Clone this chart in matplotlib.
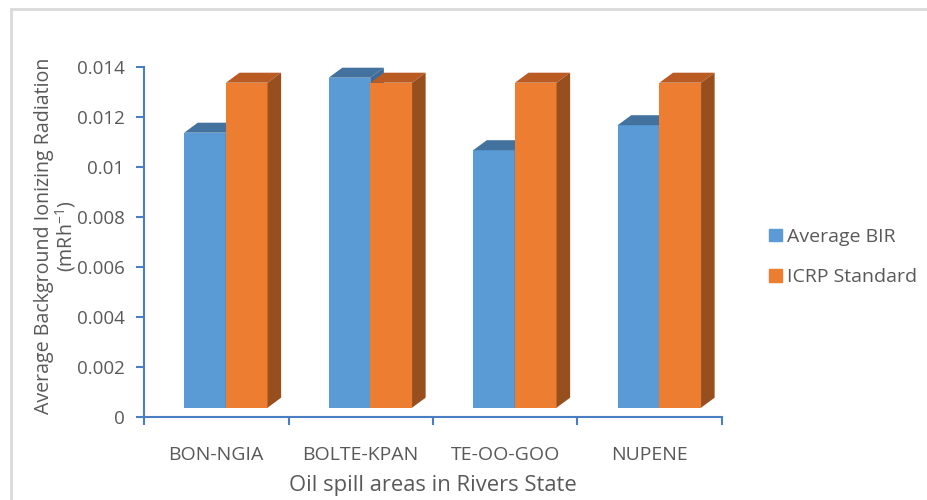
import numpy as np
import matplotlib.pyplot as plt
from matplotlib.patches import Patch, Rectangle

plt.rcParams['font.family'] = ['Open Sans', 'DejaVu Sans']
plt.rcParams['mathtext.default'] = 'regular'

# Data
areas = ['BON-NGIA', 'BOLTE-KPAN', 'TE-OO-GOO', 'NUPENE']
average_bir = [0.0110, 0.0132, 0.0103, 0.0113]
icrp_standard = [0.0130, 0.0130, 0.0130, 0.0130]
series_names = ['Average BIR', 'ICRP Standard']
ytick_vals = [0, 0.002, 0.004, 0.006, 0.008, 0.010, 0.012, 0.014]
ytick_labels = ['0', '0.002', '0.004', '0.006', '0.008', '0.01', '0.012', '0.014']

# colours: front, top, side
blue = ('#5B9BD5', '#44729F', '#3F6A93')
orange = ('#ED7D31', '#B95B22', '#984F1E')
axis_col = '#4A7EC2'
text_col = '#595959'

# fake 3D geometry (in data units)
bar_w = 0.288
base = 0.00036
dx, dy = 0.094, 0.0004

fig = plt.figure(figsize=(9.27, 5), dpi=100)
ax = fig.add_axes([144 / 927, 83.3 / 500, 578 / 927, 350 / 500])

# outer border (left/top visible)
fig.patches.append(Rectangle((11 / 927, -0.1), 1.2, 0.1 + (500 - 9) / 500,
                             transform=fig.transFigure, fill=False,
                             edgecolor='#D9D9D9', linewidth=2))


def bar3d(x0, v, cols):
    ax.bar(x0, v, width=bar_w, bottom=base, align='edge', color=cols[0],
           linewidth=0, zorder=3)
    x1 = x0 + bar_w
    top = base + v
    ax.fill([x0, x1, x1 + dx, x0 + dx], [top, top, top + dy, top + dy],
            color=cols[1], linewidth=0, zorder=3, clip_on=False)
    ax.fill([x1, x1 + dx, x1 + dx, x1], [base, base + dy, top + dy, top],
            color=cols[2], linewidth=0, zorder=3, clip_on=False)


for i in range(len(areas)):
    bar3d(i + 0.278, average_bir[i], blue)
    bar3d(i + 0.567, icrp_standard[i], orange)

ax.set_xlim(0, len(areas))
ax.set_ylim(0, 0.014)

ax.set_yticks(ytick_vals)
ax.set_yticklabels(ytick_labels)
ax.set_xticks(np.arange(0, len(areas) + 1))
ax.set_xticklabels([])
ax.set_xticks(np.arange(len(areas)) + 0.5, minor=True)
ax.set_xticklabels(areas, minor=True)
ax.tick_params(axis='x', which='major', length=6, width=1.5, color=axis_col,
               direction='out')
ax.tick_params(axis='x', which='minor', length=0, pad=21, labelsize=14,
               labelcolor=text_col)
ax.tick_params(axis='y', length=6, width=1.5, color=axis_col,
               labelsize=13.5, labelcolor=text_col, pad=8)

for s in ['top', 'right']:
    ax.spines[s].set_visible(False)
for s in ['left', 'bottom']:
    ax.spines[s].set_color(axis_col)
    ax.spines[s].set_linewidth(1.5)

fig.text(56 / 927, 1 - 236 / 500,
         'Average Background Ionizing Radiation\n(mRh$^{-1}$)',
         rotation=90, ha='center', va='center', multialignment='center',
         fontsize=14.1, color=text_col, linespacing=0.95)
fig.text(433 / 927, 1 - 485 / 500, 'Oil spill areas in Rivers State',
         ha='center', va='center', fontsize=15.8, color=text_col)

handles = [Patch(color=blue[0]), Patch(color=orange[0])]
leg = fig.legend(handles, series_names, loc='center left',
                 bbox_to_anchor=(769 / 927, 1 - 257 / 500), frameon=False,
                 fontsize=14, handlelength=0.65, handleheight=0.65,
                 handletextpad=0.28, labelspacing=1.15, borderpad=0,
                 borderaxespad=0)
for t in leg.get_texts():
    t.set_color(text_col)

fig.savefig('out.png', dpi=100)
